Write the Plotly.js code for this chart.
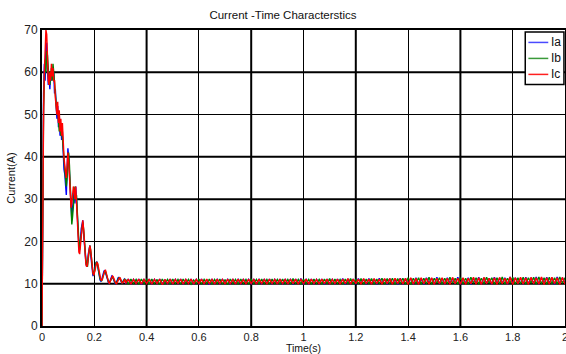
<!DOCTYPE html>
<html>
<head>
<meta charset="utf-8">
<script src="https://cdn.plot.ly/plotly-3.0.1.min.js"></script>
<style>html,body{margin:0;padding:0;background:#fff;}#chart{width:566px;height:354px;}</style>
</head>
<body>
<div id="chart"></div>
<script>
// Sampling of the recorded signals
const transientStep = 0.003;   // s, samples from t = 0
const steadyStart = 0.32;      // s
const steadyStep = 0.01;       // s

const seriesNames = ['Ia', 'Ib', 'Ic'];

// Transient part (t = 0 ... 0.318 s)
const iaTransient = [0,46,55,62,58,66,67,61,57,59,56,60,58,61,59,60,55,56,51,49,52,47,50,45,48,44,46,40,37,36,33,31,37,42,40,36,31,27,25,28,30,32,29,33,30,25,21,19,18,21,23,24,25,22,19,16,15,14,15,17,18.5,19,17,15,13,11.8,12.5,13.5,14.5,15,15.2,14,12.6,11.5,10.9,10.6,10.8,11.6,12.4,13,13.2,12.6,11.8,11,10.4,10.1,10.3,10.9,11.5,11.8,11.6,11,10.4,10.1,10,10.3,10.9,11.4,11.5,11.2,10.7,10.3,10.2,10.5,11,11.1,10.8];
const ibTransient = [0,40,52,58,63,60,65,64,59,58,57,59,61,58,62,60,57,55,53,50,51,49,46,48,45,47,44,41,39,37,35,33,35,39,41,38,33,28,24,26,29,31,33,30,31,27,22,20,18.5,20,22,24,24.5,23,20,17,15.5,14.5,14,16,18,19,18,16,14,12.5,12,13,14,15,15,14.5,13.2,12,11.2,10.8,10.7,11.2,12,12.7,13,12.9,12.2,11.4,10.7,10.3,10.2,10.6,11.2,11.6,11.7,11.3,10.7,10.3,10.1,10.2,10.6,11.1,11.4,11.4,11,10.5,10.2,10.3,10.7,11,10.9];
const icTransient = [0,30,50,60,66,70,69,63,58,57,60,58,62,59,61,58,58,54,52,50,53,48,51,46,49,45,48,43,40,38,36,35,38,41,39,35,30,28,29,31,33,32,30,33,29,23,19,17.5,17,19,22,24,25,23,19,16,14.5,14,14.5,16.5,18,19,18,16,14,12.5,12,12.5,13.5,14.5,15,14.8,13.6,12.4,11.4,10.9,10.8,11,11.8,12.6,13.1,13.2,12.5,11.6,10.8,10.3,10.1,10.4,11,11.5,11.8,11.5,10.9,10.4,10.1,10,10.4,10.9,11.3,11.5,11.2,10.6,10.2,10.2,10.6,11,11];

// Steady-state ripple (t = 0.32 ... 2.01 s)
const iaSteady = [
10.0,11.1,9.9,11.0,10.0,11.1,9.8,11.0,10.1,11.1,
9.9,11.0,10.0,11.1,9.9,10.9,10.0,11.1,9.9,11.0,
10.0,11.1,9.9,11.0,10.1,11.1,9.9,11.0,10.0,11.1,
9.9,11.0,9.8,11.1,10.0,11.0,9.9,11.1,10.0,11.0,
9.9,11.1,10.0,11.0,9.9,11.1,10.0,11.0,9.9,11.1,
10.0,11.0,9.9,11.1,10.0,11.1,9.9,11.0,10.0,11.1,
9.9,11.1,10.0,11.0,9.9,11.1,10.0,11.2,9.9,11.0,
10.0,11.1,9.9,11.0,10.0,11.1,9.9,11.1,10.0,11.0,
9.9,11.1,10.0,11.2,9.9,11.0,10.0,11.1,9.9,11.2,
10.0,11.1,9.9,11.2,10.0,11.1,9.9,11.3,10.0,11.1,
9.9,11.2,10.0,11.1,9.9,11.3,9.8,11.2,10.0,11.3,
9.9,11.4,10.0,11.2,9.9,11.4,10.1,11.3,9.9,11.5,
10.0,11.3,9.9,11.4,10.1,11.2,10.0,11.5,9.9,11.3,
10.1,11.4,9.9,11.3,10.0,11.5,9.9,11.4,10.1,11.3,
9.9,11.5,10.0,11.3,10.1,11.4,9.9,11.6,10.0,11.4,
10.1,11.3,9.9,11.5,10.0,11.4,10.1,11.6,9.9,11.4,
10.0,11.5,10.1,11.4,9.9,11.6,10.0,11.4,10.1,11.5];
const ibSteady = [
11.0,9.9,11.1,10.0,11.0,9.9,11.1,10.0,11.0,9.9,
11.1,10.0,11.0,9.8,11.1,10.0,11.0,9.9,11.1,10.0,
11.0,9.9,11.1,10.0,11.0,9.9,10.9,10.0,11.1,9.9,
11.0,10.0,11.1,9.9,11.0,10.0,11.1,9.9,11.0,9.8,
11.1,10.0,11.0,9.9,11.1,10.0,11.0,9.9,11.1,10.0,
11.0,9.9,11.1,10.0,11.0,9.9,11.1,10.0,11.0,9.9,
11.1,10.0,11.0,9.9,11.2,10.0,11.0,9.9,11.1,10.0,
11.0,9.9,11.1,10.0,11.0,9.9,11.1,10.0,11.2,9.9,
11.1,10.0,11.0,9.9,11.1,10.0,11.2,9.9,11.1,10.0,
11.2,9.9,11.1,10.0,11.2,9.9,11.1,10.0,11.3,9.9,
11.2,10.0,11.3,9.8,11.2,10.0,11.3,9.9,11.4,9.8,
11.3,10.0,11.4,9.9,11.3,10.0,11.5,9.9,11.3,10.1,
11.4,9.9,11.3,10.0,11.5,10.1,11.3,9.9,11.4,10.0,
11.3,9.9,11.5,10.1,11.4,9.9,11.3,10.0,11.5,10.1,
11.4,9.9,11.4,10.0,11.6,9.9,11.3,10.1,11.5,9.9,
11.4,10.0,11.5,9.9,11.4,10.1,11.5,9.9,11.6,10.0,
11.4,9.9,11.5,10.0,11.4,9.9,11.6,10.1,11.4,10.0];
const icSteady = [
10.1,11.1,9.9,11.0,10.0,11.1,9.9,11.0,10.0,11.1,
9.9,11.0,10.0,11.1,9.8,11.0,10.0,11.1,9.9,11.0,
10.0,11.1,9.9,11.0,10.0,11.1,9.9,11.0,10.0,11.1,
9.9,11.1,10.0,11.0,9.9,11.1,10.0,11.0,9.9,11.1,
10.0,11.0,9.9,11.1,10.0,11.0,9.9,11.1,10.0,11.0,
9.9,11.1,10.0,11.0,9.9,11.1,10.0,11.0,9.9,11.1,
10.0,11.0,9.9,11.1,10.0,11.1,9.9,11.0,10.0,11.1,
9.9,11.1,10.0,11.0,9.9,11.1,10.0,11.1,9.9,11.0,
10.0,11.1,9.9,11.1,10.0,11.2,9.9,11.1,10.0,11.1,
9.9,11.2,10.0,11.1,9.9,11.2,10.0,11.1,9.9,11.2,
10.0,11.2,9.9,11.3,10.0,11.2,9.9,11.3,9.8,11.4,
9.9,11.3,9.8,11.4,10.0,11.3,9.9,11.4,9.8,11.3,
10.0,11.4,9.9,11.3,9.8,11.5,10.0,11.3,9.9,11.4,
9.8,11.3,10.0,11.5,9.9,11.4,9.8,11.5,10.0,11.3,
9.9,11.4,9.8,11.5,10.0,11.3,9.9,11.6,9.8,11.4,
10.0,11.5,9.9,11.4,9.8,11.5,10.0,11.4,9.9,11.6,
9.8,11.4,9.9,11.5,10.0,11.4,9.8,11.5,9.9,11.4];

const xTickVals = [0,0.2,0.4,0.6,0.8,1,1.2,1.4,1.6,1.8,2];
const xTickText = ['0','0.2','0.4','0.6','0.8','1','1.2','1.4','1.6','1.8','2'];
const yTickVals = [0,10,20,30,40,50,60,70];

const colors = ['#0000ff', '#008000', '#ff0000'];
const legendColors = ['#4a4aff', '#3a9a3a', '#ff2020'];
const transients = [iaTransient, ibTransient, icTransient];
const steadies = [iaSteady, ibSteady, icSteady];

const traces = seriesNames.map((name, k) => {
  const x = [], y = [];
  transients[k].forEach((v, i) => { x.push(+(i * transientStep).toFixed(4)); y.push(v); });
  steadies[k].forEach((v, i) => { x.push(+(steadyStart + i * steadyStep).toFixed(4)); y.push(v); });
  return {
    type: 'scatter', mode: 'lines', name: name, x: x, y: y,
    line: {color: colors[k], width: 1.4}, showlegend: false
  };
});

// heavier grid lines (MATLAB-export look)
const heavyX = [0.4, 0.8, 1.2, 1.6];
const heavyY = [10, 30, 40, 60];
const shapes = [];
heavyX.forEach(v => shapes.push({type:'line', xref:'x', yref:'paper', x0:v, x1:v, y0:0, y1:1, layer:'below', line:{color:'#000', width:2}}));
heavyY.forEach(v => shapes.push({type:'line', xref:'paper', yref:'y', x0:0, x1:1, y0:v, y1:v, layer:'below', line:{color:'#000', width:2}}));

const font = {family: '"Liberation Sans", Arial, sans-serif', size: 11, color: '#222'};

// MATLAB-style legend box (paper coordinates of the plot area)
const legBox = {x0: 0.924, x1: 0.998, y0: 0.816, y1: 0.993};
const legRows = [0.958, 0.904, 0.850];
const annotations = [];
shapes.push({type:'rect', xref:'paper', yref:'paper', x0:legBox.x0, x1:legBox.x1, y0:legBox.y0, y1:legBox.y1,
             fillcolor:'#fff', line:{color:'#000', width:1.5}, layer:'above'});
seriesNames.forEach((name, k) => {
  shapes.push({type:'line', xref:'paper', yref:'paper', x0:0.930, x1:0.968, y0:legRows[k], y1:legRows[k],
               line:{color: legendColors[k], width: 1.5}, layer:'above'});
  annotations.push({xref:'paper', yref:'paper', x:0.970, y:legRows[k], xanchor:'left', yanchor:'middle',
                    text: name, showarrow:false, font:{family: font.family, size: 12, color:'#111'}});
});

const layout = {
  width: 566, height: 354,
  margin: {l: 42, r: 1, t: 30, b: 28},
  paper_bgcolor: '#fff', plot_bgcolor: '#fff',
  font: font,
  title: {text: 'Current -Time Characterstics', font: {family: font.family, size: 11.5, color: '#111'}, x: 0.5, xanchor: 'center', y: 0.958, yanchor: 'middle'},
  showlegend: false,
  xaxis: {range: [0, 2], tickvals: xTickVals, ticktext: xTickText, showgrid: true, gridcolor: '#000', gridwidth: 1,
          showline: true, linecolor: '#000', linewidth: 2, mirror: true, zeroline: false, ticks: '',
          ticklabeloverflow: 'allow', ticklabelstandoff: 0,
          tickfont: {family: font.family, size: 11, color: '#222'},
          title: {text: 'Time(s)', font: {family: font.family, size: 10.5, color: '#111'}, standoff: 2}},
  yaxis: {range: [0, 70], tickvals: yTickVals, showgrid: true, gridcolor: '#000', gridwidth: 1,
          showline: true, linecolor: '#000', linewidth: 2, mirror: true, zeroline: false, ticks: '',
          tickfont: {family: font.family, size: 12, color: '#222'},
          title: {text: 'Current(A)', font: {family: font.family, size: 11, color: '#111'}, standoff: 6}},
  shapes: shapes,
  annotations: annotations
};

Plotly.newPlot('chart', traces, layout, {displayModeBar: false, staticPlot: true});
</script>
</body>
</html>
